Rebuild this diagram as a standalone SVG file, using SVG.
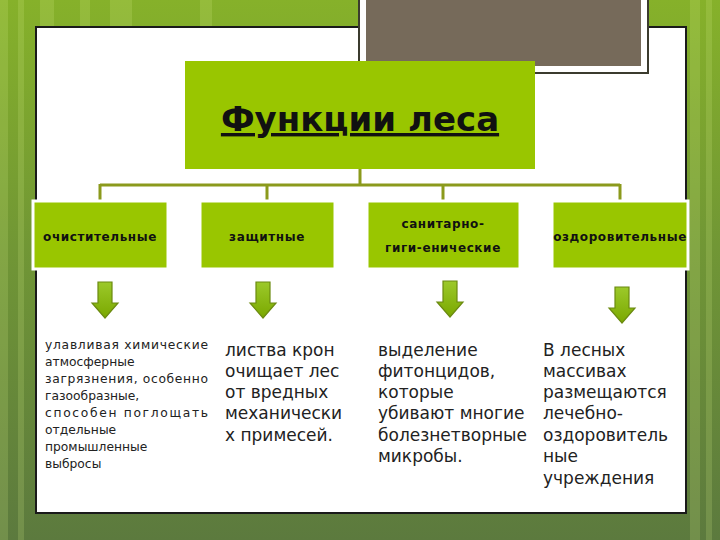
<svg xmlns="http://www.w3.org/2000/svg" width="720" height="540" viewBox="0 0 720 540">
<defs>
<linearGradient id="bg" x1="0" y1="0" x2="0" y2="1">
<stop offset="0" stop-color="#86b12a"/>
<stop offset="0.5" stop-color="#6f9436"/>
<stop offset="1" stop-color="#5c7a3e"/>
</linearGradient>
<linearGradient id="arr" x1="0" y1="0" x2="0" y2="1">
<stop offset="0" stop-color="#9cc92a"/>
<stop offset="1" stop-color="#7aa800"/>
</linearGradient>
<path id="down" d="M-7,0 H7 V21 H13 L0,36 L-13,21 H-7 Z"/>
</defs>
<style>
.box{fill:#99c600;stroke:#ffffff;stroke-width:3}
.lbl{font-family:"DejaVu Sans",sans-serif;font-weight:bold;font-size:12px;fill:#111;text-anchor:middle;letter-spacing:0.6px}
.conn{fill:none;stroke:#8b9a1c;stroke-width:3}
.arrow{fill:url(#arr);stroke:#6b8a10;stroke-width:1.2}
.t1{font-family:"DejaVu Sans",sans-serif;font-size:12.3px;fill:#222}
.t2{font-family:"DejaVu Sans",sans-serif;font-size:17px;fill:#222}
</style>
<rect width="720" height="540" fill="url(#bg)"/>
<g opacity="0.18" fill="#d8f08a">
<rect x="0" y="0" width="8" height="540"/>
<rect x="18" y="0" width="6" height="540"/>
<rect x="40" y="0" width="14" height="30"/>
<rect x="80" y="0" width="10" height="30"/>
<rect x="110" y="0" width="22" height="30"/>
<rect x="200" y="0" width="12" height="30"/>
<rect x="690" y="0" width="10" height="540"/>
<rect x="706" y="0" width="6" height="540"/>
</g>
<rect x="36" y="27" width="650" height="486" fill="#ffffff" stroke="#1a1a1a" stroke-width="2"/>
<g id="topbox">
<rect x="359" y="-4" width="289" height="77" fill="#ffffff" stroke="#3b3b2e" stroke-width="2"/>
<rect x="366" y="-4" width="275" height="70" fill="#766a5a"/>
</g>
<g id="connectors">
<path class="conn" d="M360,169 V185 M100,185 H620 M100,184 V201 M267,184 V201 M443,184 V201 M620,184 V201"/>
</g>
<g id="title">
<rect x="185" y="61" width="350" height="108" fill="#99c600"/>
<text x="360" y="131" font-family="DejaVu Sans,sans-serif" font-weight="bold" font-size="34" text-anchor="middle" fill="#111" text-decoration="underline">Функции леса</text>
</g>
<g id="n1">
<rect class="box" x="33" y="201" width="135" height="68"/>
<text class="lbl" x="100" y="241">очистительные</text>
</g>
<g id="n2">
<rect class="box" x="200" y="201" width="135" height="68"/>
<text class="lbl" x="267" y="241">защитные</text>
</g>
<g id="n3">
<rect class="box" x="367" y="201" width="153" height="68"/>
<text class="lbl" x="443" y="228">санитарно-</text>
<text class="lbl" x="443" y="252">гиги-енические</text>
</g>
<g id="n4">
<rect class="box" x="552" y="201" width="136" height="68"/>
<text class="lbl" x="620" y="241" letter-spacing="0.3">оздоровительные</text>
</g>
<g id="arrows">
<use href="#down" class="arrow" x="105" y="282"/>
<use href="#down" class="arrow" x="263" y="282"/>
<use href="#down" class="arrow" x="450" y="281"/>
<use href="#down" class="arrow" x="622" y="287"/>
</g>
<g id="col1" class="t1">
<text x="45" y="349" textLength="163" lengthAdjust="spacing">улавливая химические</text>
<text x="45" y="366">атмосферные</text>
<text x="45" y="383" textLength="163" lengthAdjust="spacing">загрязнения, особенно</text>
<text x="45" y="400">газообразные,</text>
<text x="45" y="417" textLength="163" lengthAdjust="spacing">способен поглощать</text>
<text x="45" y="434">отдельные</text>
<text x="45" y="451">промышленные</text>
<text x="45" y="468">выбросы</text>
</g>
<g id="col2" class="t2">
<text x="225" y="356">листва крон</text>
<text x="225" y="377">очищает лес</text>
<text x="225" y="398">от вредных</text>
<text x="225" y="419">механически</text>
<text x="225" y="441">х примесей.</text>
</g>
<g id="col3" class="t2">
<text x="378" y="356">выделение</text>
<text x="378" y="377">фитонцидов,</text>
<text x="378" y="398">которые</text>
<text x="378" y="419">убивают многие</text>
<text x="378" y="441">болезнетворные</text>
<text x="378" y="462">микробы.</text>
</g>
<g id="col4" class="t2">
<text x="543" y="356">В лесных</text>
<text x="543" y="377">массивах</text>
<text x="543" y="398">размещаются</text>
<text x="543" y="419">лечебно-</text>
<text x="543" y="441">оздоровитель</text>
<text x="543" y="462">ные</text>
<text x="543" y="484">учреждения</text>
</g>
</svg>
